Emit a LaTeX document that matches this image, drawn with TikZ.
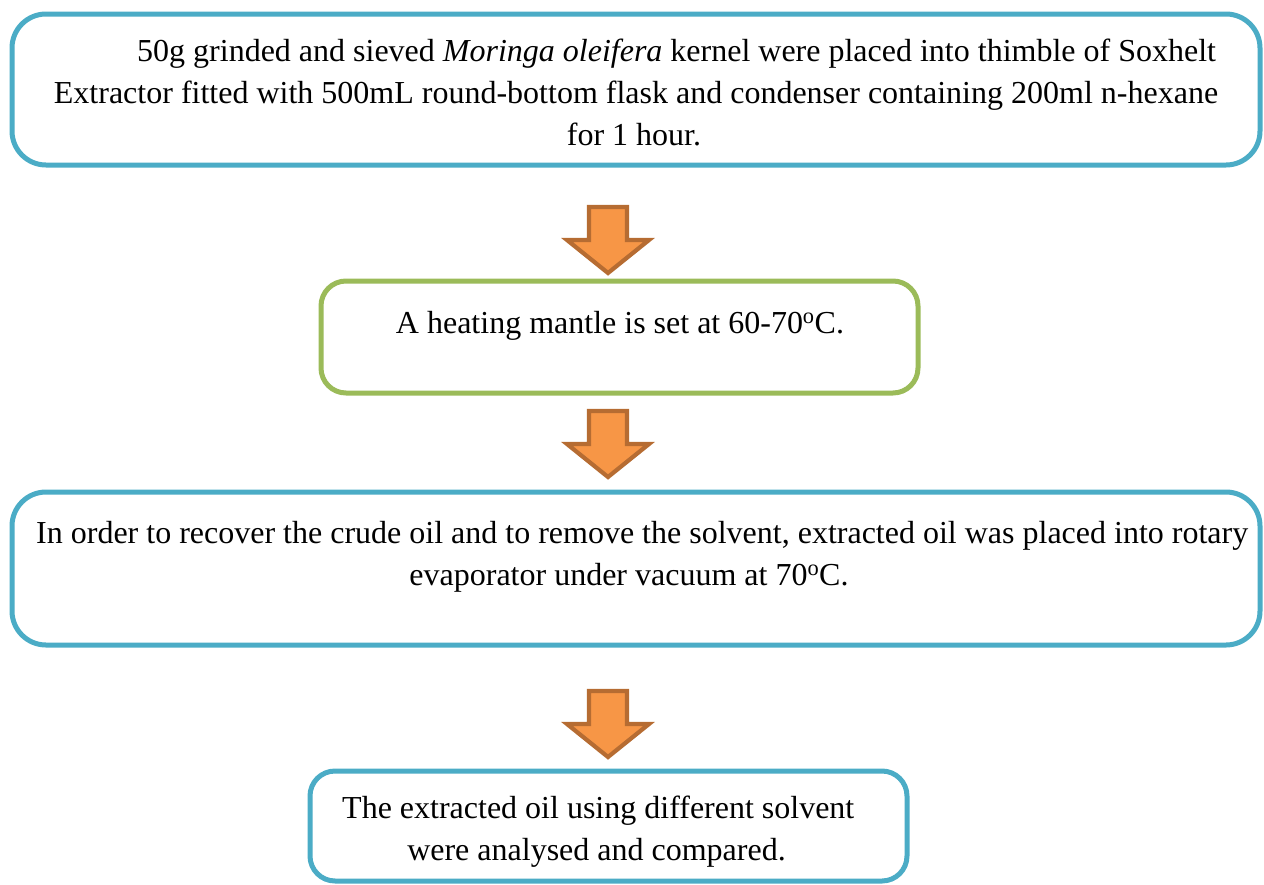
\documentclass[tikz,border=0pt]{standalone}
\usepackage{fontspec}
\setmainfont{Liberation Serif}
\definecolor{boxblue}{RGB}{75,172,198}
\definecolor{boxgreen}{RGB}{155,187,89}
\definecolor{arrowfill}{RGB}{247,150,70}
\definecolor{arrowdraw}{RGB}{182,108,50}
\tikzset{
  flowbox/.style={draw=boxblue, line width=5pt, rectangle, inner sep=0pt, fill=white},
  greenbox/.style={draw=boxgreen, line width=5pt, rectangle, inner sep=0pt, fill=white},
  txt/.style={inner sep=0pt, font=\fontsize{32}{42.5}\selectfont},
  blockarrow/.style={draw=arrowdraw, fill=arrowfill, line width=4.2pt, line join=miter},
  downarrow/.pic={\path[blockarrow] (-19,0) -- (19,0) -- (19,33) -- (41,33) -- (0,66) -- (-41,33) -- (-19,33) -- cycle;}
}
\begin{document}
\begin{tikzpicture}[x=1pt,y=-1pt]
\useasboundingbox (0,0) rectangle (1264,884);
% boxes
\node[flowbox, minimum width=1248pt, minimum height=151pt, rounded corners=34pt] (b1) at (636,89.5) {};
\node[greenbox, minimum width=597pt, minimum height=112pt, rounded corners=25pt] (b2) at (619.5,337) {};
\node[flowbox, minimum width=1248pt, minimum height=153pt, rounded corners=34pt] (b3) at (636,568.5) {};
\node[flowbox, minimum width=597pt, minimum height=110pt, rounded corners=25pt] (b4) at (608.5,826) {};
% texts
\node[txt, anchor=base west] (t1a) at (137,61) {50g grinded and sieved \textit{Moringa oleifera} kernel were placed into thimble of Soxhelt};
\node[txt, anchor=base] (t1b) at (636,103) {Extractor fitted with 500mL round-bottom flask and condenser containing 200ml n-hexane};
\node[txt, anchor=base] (t1c) at (634,145) {for 1 hour.};
\node[txt, anchor=base] (t2) at (620,333) {A heating mantle is set at 60-70\textsuperscript{o}C.};
\node[txt, anchor=base west] (t3a) at (36,543) {In order to recover the crude oil and to remove the solvent, extracted oil was placed into rotary};
\node[txt, anchor=base] (t3b) at (629,585) {evaporator under vacuum at 70\textsuperscript{o}C.};
\node[txt, anchor=base west] (t4a) at (342,818) {The extracted oil using different solvent};
\node[txt, anchor=base] (t4b) at (596.5,860) {were analysed and compared.};
% arrows
\pic at (608,207) {downarrow};
\pic at (608,411) {downarrow};
\pic at (608,691) {downarrow};
\end{tikzpicture}
\end{document}
